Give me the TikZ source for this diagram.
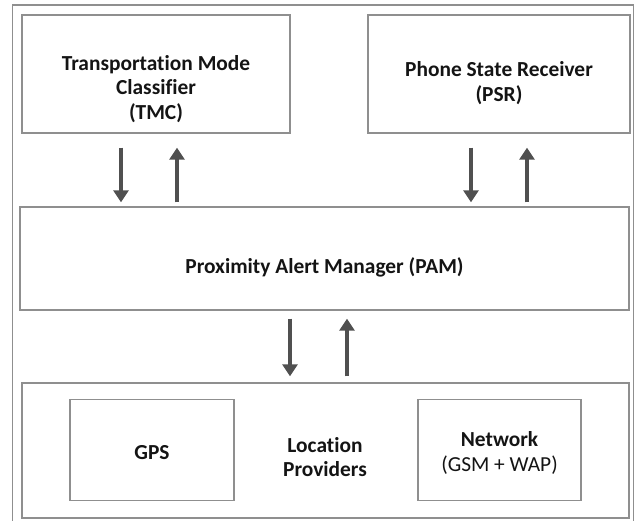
\documentclass[tikz,border=0pt]{standalone}
\usepackage{fontspec}
\setmainfont{Carlito}[Ligatures=NoCommon]
\usetikzlibrary{arrows.meta}
\definecolor{boxgray}{HTML}{8F8F8F}
\definecolor{argray}{HTML}{505050}
\definecolor{txt}{HTML}{141414}
\begin{document}
\begin{tikzpicture}[x=1pt,y=-1pt,font=\fontsize{21.4}{24.5}\selectfont\bfseries,
  bx/.style={draw=boxgray,line width=1.4pt,inner sep=0pt},
  tx/.style={text=txt,align=center,inner sep=0pt},
  ar/.style={draw=argray,line width=3.2pt,-{Triangle[width=15pt,length=12pt]}}]
  \useasboundingbox (0,0) rectangle (638,521);
  % outer frame (open at the bottom)
  \draw[boxgray,line width=1.4pt] (12.5,521) -- (12.5,5) -- (633.5,5) -- (633.5,521);
  % boxes
  \node[bx,minimum width=268pt,minimum height=118pt] (tmc) at (156,74){};
  \node[bx,minimum width=262pt,minimum height=118pt] (psr) at (499,74){};
  \node[bx,minimum width=609pt,minimum height=103pt] (pam) at (324.5,258.5){};
  \node[bx,minimum width=607pt,minimum height=135pt] (loc) at (325.5,450.5){};
  \node[bx,minimum width=164pt,minimum height=101pt] (gps) at (152,450){};
  \node[bx,minimum width=163pt,minimum height=101pt] (net) at (499.5,450){};
  % texts
  \node[tx] (tmct) at (156,89){Transportation Mode\\Classifier\\(TMC)};
  \node[tx] (psrt) at (499,83){Phone State Receiver\\(PSR)};
  \node[tx] (pamt) at (324.5,267){Proximity Alert Manager (PAM)};
  \node[tx] (gpst) at (152,453){GPS};
  \node[tx] (lpt) at (325,457){Location\\Providers};
  \node[tx] (nett) at (499.5,453){Network\\{\mdseries(GSM + WAP)}};
  % arrows
  \draw[ar,shorten <=14pt,shorten >=4pt] ([xshift=-35pt]tmc.south) -- ([xshift=-35pt]tmc.south |- pam.north);
  \draw[ar,shorten <=4pt,shorten >=14pt] ([xshift=21pt]tmc.south |- pam.north) -- ([xshift=21pt]tmc.south);
  \draw[ar,shorten <=14pt,shorten >=4pt] ([xshift=-28pt]psr.south) -- ([xshift=-28pt]psr.south |- pam.north);
  \draw[ar,shorten <=4pt,shorten >=14pt] ([xshift=28pt]psr.south |- pam.north) -- ([xshift=28pt]psr.south);
  \draw[ar,shorten <=8pt,shorten >=6pt] ([xshift=-34.5pt]pam.south) -- ([xshift=-34.5pt]pam.south |- loc.north);
  \draw[ar,shorten <=6pt,shorten >=8pt] ([xshift=22.5pt]pam.south |- loc.north) -- ([xshift=22.5pt]pam.south);
\end{tikzpicture}
\end{document}
